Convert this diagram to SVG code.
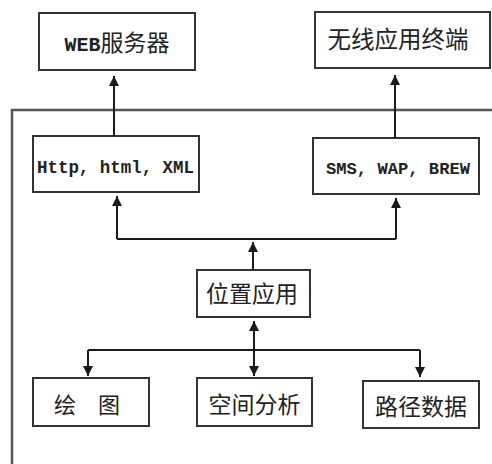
<svg xmlns="http://www.w3.org/2000/svg" width="492" height="464" viewBox="0 0 492 464">
  <defs>
    <marker id="ah" viewBox="0 0 10 10" markerWidth="10" markerHeight="11" refX="10" refY="5" orient="auto-start-reverse" markerUnits="userSpaceOnUse">
      <path d="M0,0 L10,5 L0,10 z" fill="#1a1a1a"/>
    </marker>
  </defs>
  <style>
    .box { fill: #ffffff; stroke: #333333; stroke-width: 2; }
    .frame { fill: none; stroke: #555555; stroke-width: 2.5; }
    .cn { font-family: "Noto Sans CJK SC", "Noto Sans", sans-serif; font-size: 23px; fill: #222222; text-anchor: middle; }
    .cnl { font-family: "Noto Sans CJK SC", "Noto Sans", sans-serif; font-size: 22px; fill: #222222; text-anchor: start; }
    .mono { font-family: "Liberation Mono", "DejaVu Sans Mono", monospace; fill: #222222; }
    .wire { fill: none; stroke: #1a1a1a; stroke-width: 2; }
    .arrow { fill: none; stroke: #1a1a1a; stroke-width: 2; marker-end: url(#ah); }
    .darrow { fill: none; stroke: #1a1a1a; stroke-width: 2; marker-start: url(#ah); marker-end: url(#ah); }
  </style>
  <rect width="492" height="464" fill="#ffffff"/>

  <g id="frame">
    <path class="frame" d="M12,464 V110 H492"/>
  </g>

  <g id="web-server">
    <rect class="box" x="39" y="13" width="156" height="57"/>
    <text x="117" y="51" class="cn"><tspan class="mono" font-size="20" font-weight="bold">WEB</tspan>服务器</text>
  </g>

  <g id="wireless-terminal">
    <rect class="box" x="315" y="12" width="175" height="56"/>
    <text x="398" y="48" class="cn" style="font-size:23.5px">无线应用终端</text>
  </g>

  <g id="http-html-xml">
    <rect class="box" x="33" y="136" width="166" height="56"/>
    <text x="37" y="173" class="mono" font-size="17.5" font-weight="bold" textLength="157" lengthAdjust="spacingAndGlyphs">Http, html, XML</text>
  </g>

  <g id="sms-wap-brew">
    <rect class="box" x="313" y="138" width="166" height="56"/>
    <text x="326" y="174" class="mono" font-size="17.2" font-weight="bold" textLength="144" lengthAdjust="spacingAndGlyphs">SMS, WAP, BREW</text>
  </g>

  <g id="location-app">
    <rect class="box" x="197" y="270" width="113" height="47"/>
    <text x="252" y="302" class="cn">位置应用</text>
  </g>

  <g id="drawing">
    <rect class="box" x="33" y="378" width="116" height="48"/>
    <text x="54" y="413" class="cnl" xml:space="preserve">绘　图</text>
  </g>

  <g id="spatial-analysis">
    <rect class="box" x="197" y="378" width="115" height="48"/>
    <text x="254.5" y="413" class="cn">空间分析</text>
  </g>

  <g id="route-data">
    <rect class="box" x="363" y="381" width="116" height="47"/>
    <text x="421" y="415" class="cn">路径数据</text>
  </g>

  <g id="connectors">
    <path class="arrow" d="M114,136 V76"/>
    <path class="arrow" d="M395,138 V75"/>
    <path class="wire" d="M117,239 H396"/>
    <path class="arrow" d="M117,239 V196"/>
    <path class="arrow" d="M396,239 V198"/>
    <path class="arrow" d="M253,270 V242"/>
    <path class="darrow" d="M254,321 V376"/>
    <path class="wire" d="M88,350 H420"/>
    <path class="arrow" d="M88,350 V376"/>
    <path class="arrow" d="M420,350 V377"/>
  </g>
</svg>
